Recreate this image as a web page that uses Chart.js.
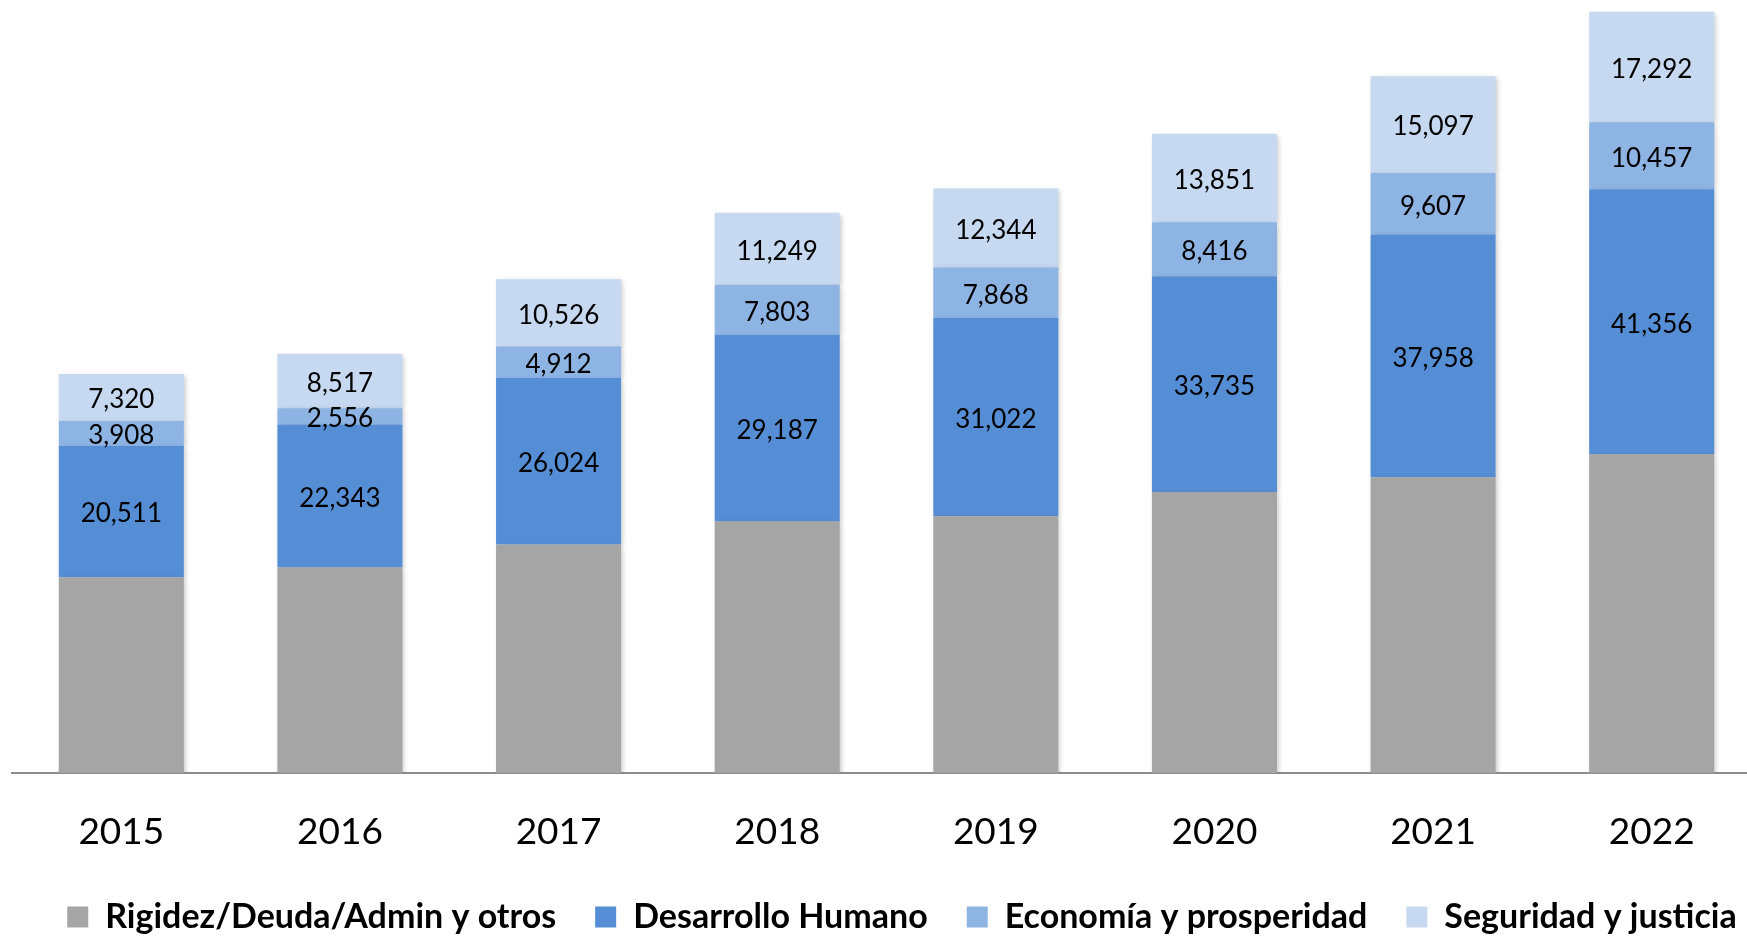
<!DOCTYPE html>
<html>
<head>
<meta charset="utf-8">
<script src="https://cdn.jsdelivr.net/npm/chart.js@4/dist/chart.umd.min.js"></script>
<style>
	html, body { margin: 0; padding: 0; background: #fff; overflow: hidden; }
	#wrap { position: relative; width: 1792px; height: 944px; }
</style>
</head>
<body>
<div id="wrap"><canvas id="chart"></canvas></div>
<script>
const years = ['2015', '2016', '2017', '2018', '2019', '2020', '2021', '2022'];

// grey segment has no labels in the original
const rigidez = [30600, 32100, 35700, 39300, 40100, 43900, 46200, 49850];
const desarrollo = [20511, 22343, 26024, 29187, 31022, 33735, 37958, 41356];
const economia = [3908, 2556, 4912, 7803, 7868, 8416, 9607, 10457];
const seguridad = [7320, 8517, 10526, 11249, 12344, 13851, 15097, 17292];

const seriesNames = [
	'Rigidez/Deuda/Admin y otros',
	'Desarrollo Humano',
	'Economía y prosperidad',
	'Seguridad y justicia',
];

const colors = ['#A5A5A5', '#558ED5', '#8EB4E3', '#C6D9F1'];

// soft office-style shadow on the bars
const barShadow = {
	id: 'barShadow',
	beforeDatasetDraw(chart) {
		const ctx = chart.ctx;
		ctx.save();
		ctx.shadowColor = 'rgba(0, 0, 0, 0.22)';
		ctx.shadowBlur = 5;
		ctx.shadowOffsetX = 2;
		ctx.shadowOffsetY = 2;
	},
	afterDatasetDraw(chart) {
		chart.ctx.restore();
	},
};

const segmentLabels = {
	id: 'segmentLabels',
	afterDatasetsDraw(chart) {
		const ctx = chart.ctx;
		ctx.save();
		ctx.font = '26px Lato';
		ctx.fillStyle = '#000';
		ctx.textAlign = 'center';
		ctx.textBaseline = 'middle';
		chart.data.datasets.forEach((ds, i) => {
			if (i === 0) return;
			chart.getDatasetMeta(i).data.forEach((bar, j) => {
				const y = (bar.y + bar.base) / 2 + 2.5;
				ctx.fillText(ds.data[j].toLocaleString('en-US'), bar.x, y);
			});
		});
		ctx.restore();
	},
};

const datasets = [rigidez, desarrollo, economia, seguridad].map((data, i) => ({
	label: seriesNames[i],
	data,
	backgroundColor: colors[i],
	borderWidth: 0,
	barPercentage: 0.572,
	categoryPercentage: 1,
}));

new Chart(document.getElementById('chart'), {
	type: 'bar',
	data: { labels: years, datasets },
	plugins: [barShadow, segmentLabels],
	options: {
		responsive: true,
		maintainAspectRatio: false,
		animation: false,
		layout: { padding: { left: 12, right: 0, top: 5, bottom: 0 } },
		plugins: {
			tooltip: { enabled: false },
			legend: {
				position: 'bottom',
				labels: {
					boxWidth: 21,
					boxHeight: 21,
					padding: 39,
					color: '#000',
					font: { family: 'Lato', size: 34, weight: 'bold' },
				},
			},
		},
		scales: {
			x: {
				stacked: true,
				grid: { display: false },
				border: { display: true, color: '#8c8c8c', width: 2 },
				ticks: { color: '#000', padding: 29, font: { family: 'Lato', size: 37 } },
				afterFit(scale) { scale.height = 88; },
			},
			y: {
				stacked: true,
				position: 'right',
				min: 0,
				max: 120000,
				grid: { display: false },
				border: { display: false },
				ticks: { display: false },
				// empty strip on the right, the plot runs past the picture edge
				afterFit(scale) { scale.width = 31; },
			},
		},
	},
});
</script>
</body>
</html>
